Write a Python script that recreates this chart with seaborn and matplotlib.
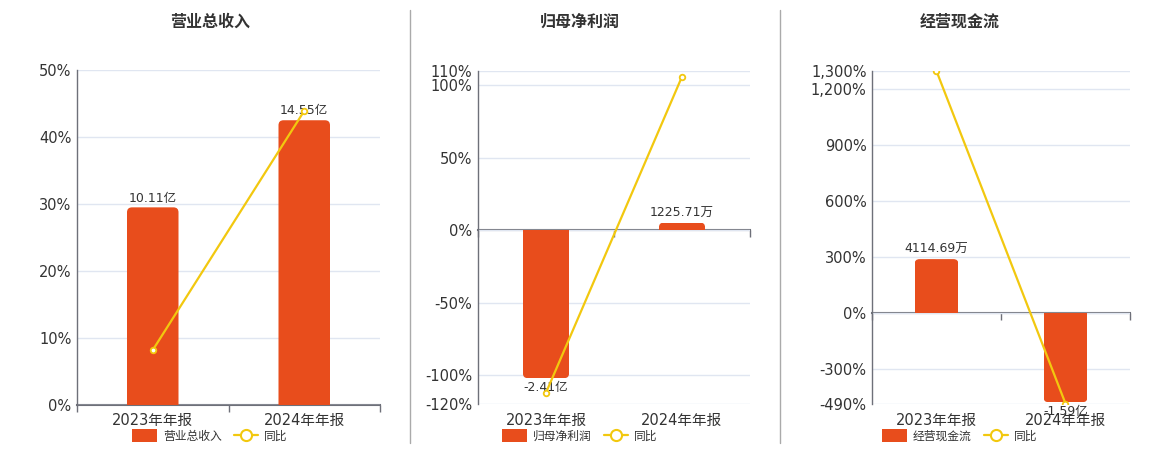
import numpy as np
import pandas as pd
import matplotlib
matplotlib.use("Agg")
import matplotlib.pyplot as plt
import seaborn as sns
from matplotlib.patches import FancyBboxPatch, Patch
from matplotlib.lines import Line2D
from matplotlib.ticker import FuncFormatter

# data
periods = ['2023年年报', '2024年年报']

rev_bar = [29.5, 42.5]          # bar heights on the % axis
rev_label = ['10.11亿', '14.55亿']
rev_yoy = [8.2, 43.9]

np_bar = [-102.0, 5.3]
np_label = ['-2.41亿', '1225.71万']
np_yoy = [-112.0, 105.9]

cf_bar = [289.0, -479.0]
cf_label = ['4114.69万', '-1.59亿']
cf_yoy = [1298.0, -486.0]

titles = ['营业总收入', '归母净利润', '经营现金流']
yticks = [[0, 10, 20, 30, 40, 50],
          [-120, -100, -50, 0, 50, 100, 110],
          [-490, -300, 0, 300, 600, 900, 1200, 1300]]

BAR = '#E84D1C'
LINE = '#F2C80F'
TXT = '#333333'
AXC = '#6E7079'
GRID = '#E0E6F1'

sns.set_theme(style='white')
plt.rcParams['font.family'] = ['DejaVu Sans', 'Noto Sans CJK SC']

fig = plt.figure(figsize=(11.6, 4.5), dpi=100)

# axes boxes in pixels: left, right, top, bottom
boxes = [(77, 380, 70, 405), (478, 750, 70.7, 404.3), (872, 1130, 70.7, 404.3)]
centers = [210, 580, 960]


def round_far_end(ax, container, r_px=5):
    bb = ax.get_window_extent()
    x0, x1 = ax.get_xlim()
    y0, y1 = ax.get_ylim()
    xpp = (x1 - x0) / bb.width
    ypp = (y1 - y0) / bb.height
    for p in container.patches:
        x, y, w, h = p.get_x(), p.get_y(), p.get_width(), p.get_height()
        # extend the box past the base so only the far end shows rounded
        if h >= 0:
            by, bh = y - abs(h), 2 * abs(h)
        else:
            by, bh = y + h, 2 * abs(h)
        fb = FancyBboxPatch((x, by), w, bh,
                            boxstyle='round,pad=0,rounding_size=%f' % (r_px * xpp),
                            mutation_aspect=ypp / xpp,
                            facecolor=BAR, edgecolor='none', zorder=2)
        ax.add_patch(fb)
        fb.set_clip_path(p)
        p.set_visible(False)


sets = [(rev_bar, rev_label, rev_yoy), (np_bar, np_label, np_yoy), (cf_bar, cf_label, cf_yoy)]

for i, (bars, labels, yoy) in enumerate(sets):
    l, r, t, b = boxes[i]
    ax = fig.add_axes([l / 1160, 1 - b / 450, (r - l) / 1160, (b - t) / 450])
    df = pd.DataFrame({'period': periods, 'bar': bars, 'yoy': yoy})

    sns.barplot(data=df, x='period', y='bar', color=BAR, width=0.34,
                saturation=1, ax=ax, zorder=2)
    sns.pointplot(data=df, x='period', y='yoy', color=LINE, errorbar=None,
                  markers='o', markersize=4, markerfacecolor='white',
                  markeredgecolor=LINE, markeredgewidth=1.3, linewidth=1.6,
                  ax=ax, zorder=4)

    ax.set_xlim(-0.5, 1.5)
    ax.set_ylim(yticks[i][0], yticks[i][-1])
    ax.set_yticks(yticks[i])
    ax.yaxis.set_major_formatter(FuncFormatter(lambda v, pos: '{:,.0f}%'.format(v)))
    ax.set_xlabel('')
    ax.set_ylabel('')
    ax.grid(axis='y', color=GRID, linewidth=1, zorder=0)
    ax.set_axisbelow(True)

    for s in ['top', 'right', 'bottom']:
        ax.spines[s].set_visible(False)
    ax.spines['left'].set_color(AXC)
    ax.spines['left'].set_linewidth(1)
    ax.tick_params(axis='y', length=0, pad=4, labelsize=10.5, labelcolor=TXT)
    ax.tick_params(axis='x', length=0, pad=6, labelsize=10.5, labelcolor=TXT)

    # zero line with category boundary ticks
    sec = ax.secondary_xaxis(0, transform=ax.transData)
    sec.set_xticks([-0.5, 0.5, 1.5])
    sec.set_xticklabels([])
    sec.tick_params(axis='x', length=5, width=1, color=AXC, direction='out')
    sec.spines['bottom'].set_color(AXC)
    sec.spines['bottom'].set_linewidth(1.5)

    cont = ax.containers[0]
    ax.bar_label(cont, labels=labels, padding=2, fontsize=9, color=TXT)
    round_far_end(ax, cont)

    fig.text(centers[i] / 1160, 1 - 22 / 450, titles[i], ha='center', va='center',
             fontsize=11.5, fontweight='bold', color=TXT)

    handles = [Patch(facecolor=BAR, edgecolor='none'),
               Line2D([0], [0], color=LINE, lw=1.6, marker='o', markersize=8,
                      markerfacecolor='white', markeredgecolor=LINE, markeredgewidth=1.5)]
    fig.legend(handles, [titles[i], '同比'], loc='center',
               bbox_to_anchor=(centers[i] / 1160, 1 - 436 / 450), ncol=2,
               frameon=False, fontsize=8.5, labelcolor=TXT, handlelength=2.1,
               handleheight=1.3, handletextpad=0.5, columnspacing=1.0)

# panel separators
for xp in [410, 780]:
    fig.add_artist(Line2D([xp / 1160, xp / 1160], [1 - 443 / 450, 1 - 10 / 450],
                          color='#AAAAAA', lw=1))

fig.savefig('out.png', dpi=100)
